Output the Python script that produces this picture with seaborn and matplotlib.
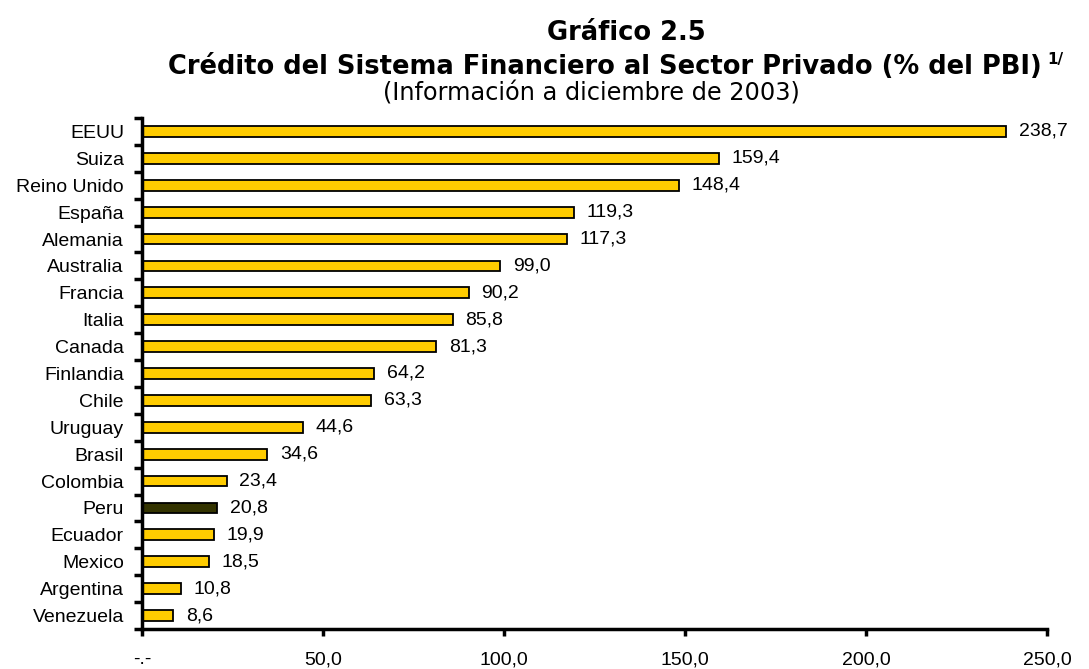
import matplotlib
matplotlib.use("Agg")
import matplotlib.pyplot as plt
import seaborn as sns
import pandas as pd

# data
countries = ["EEUU", "Suiza", "Reino Unido", "España", "Alemania", "Australia",
             "Francia", "Italia", "Canada", "Finlandia", "Chile", "Uruguay",
             "Brasil", "Colombia", "Peru", "Ecuador", "Mexico", "Argentina",
             "Venezuela"]
credito = [238.7, 159.4, 148.4, 119.3, 117.3, 99.0, 90.2, 85.8, 81.3, 64.2,
           63.3, 44.6, 34.6, 23.4, 20.8, 19.9, 18.5, 10.8, 8.6]
x_ticks = [0, 50, 100, 150, 200, 250]
x_tick_labels = ["-.-", "50,0", "100,0", "150,0", "200,0", "250,0"]

YELLOW = "#FFCC00"
DARK = "#333300"

sns.set_style("ticks")
plt.rcParams["font.family"] = ["Liberation Sans", "DejaVu Sans"]
plt.rcParams["text.color"] = "black"
plt.rcParams["xtick.color"] = "black"
plt.rcParams["ytick.color"] = "black"
plt.rcParams["xtick.labelcolor"] = "black"
plt.rcParams["ytick.labelcolor"] = "black"

df = pd.DataFrame({"pais": countries, "valor": credito})
colors = {c: (DARK if c == "Peru" else YELLOW) for c in countries}

fig = plt.figure(figsize=(10.89, 6.69), dpi=100)
ax = fig.add_axes([142 / 1089, 1 - 629 / 669, (1047 - 142) / 1089, (629 - 118) / 669])

sns.barplot(data=df, x="valor", y="pais", hue="pais", palette=colors, legend=False,
            orient="h", width=0.4, saturation=1, edgecolor="black", linewidth=1.3, ax=ax)

ax.set_xlim(0, 250)
ax.set_ylim(len(countries) - 0.5, -0.5)
ax.set_xlabel("")
ax.set_ylabel("")

# value labels at bar ends
for i, v in enumerate(credito):
    ax.annotate(f"{v:.1f}".replace(".", ","), xy=(v, i), xytext=(9, 0),
                textcoords="offset points", va="center", ha="left", fontsize=14,
                color="black")

ax.set_xticks(x_ticks)
ax.set_xticklabels(x_tick_labels)
ax.tick_params(axis="x", direction="out", length=5, width=2.5, pad=11, labelsize=14)

# y ticks sit at the boundaries between categories
ax.set_yticks(range(len(countries)))
ax.set_yticklabels(countries)
ax.set_yticks([i - 0.5 for i in range(len(countries) + 1)], minor=True)
ax.tick_params(axis="y", which="major", length=0, pad=13, labelsize=14)
ax.tick_params(axis="y", which="minor", direction="out", length=6, width=2.5)

for side in ["top", "right"]:
    ax.spines[side].set_visible(False)
for side in ["left", "bottom"]:
    ax.spines[side].set_linewidth(2.5)
    ax.spines[side].set_color("black")

title_font = ["DejaVu Sans"]
fig.text(626 / 1089, 1 - 40 / 669, "Gráfico 2.5", ha="center", va="baseline",
         fontsize=18.5, fontweight="bold", family=title_font)
t2 = fig.text(168 / 1089, 1 - 74 / 669, "Crédito del Sistema Financiero al Sector Privado (% del PBI)",
              ha="left", va="baseline", fontsize=18.5, fontweight="bold", family=title_font)
fig.text(383 / 1089, 1 - 100 / 669, "(Información a diciembre de 2003)", ha="left", va="baseline",
         fontsize=17.3, family=title_font)

# superscript note marker right after the second title line
fig.canvas.draw()
bb = t2.get_window_extent().transformed(fig.transFigure.inverted())
fig.text(bb.x1 + 0.005, 1 - 64 / 669, "1/", ha="left", va="baseline",
         fontsize=11, fontweight="bold", family=title_font)

fig.savefig("out.png", dpi=100, facecolor="white")
